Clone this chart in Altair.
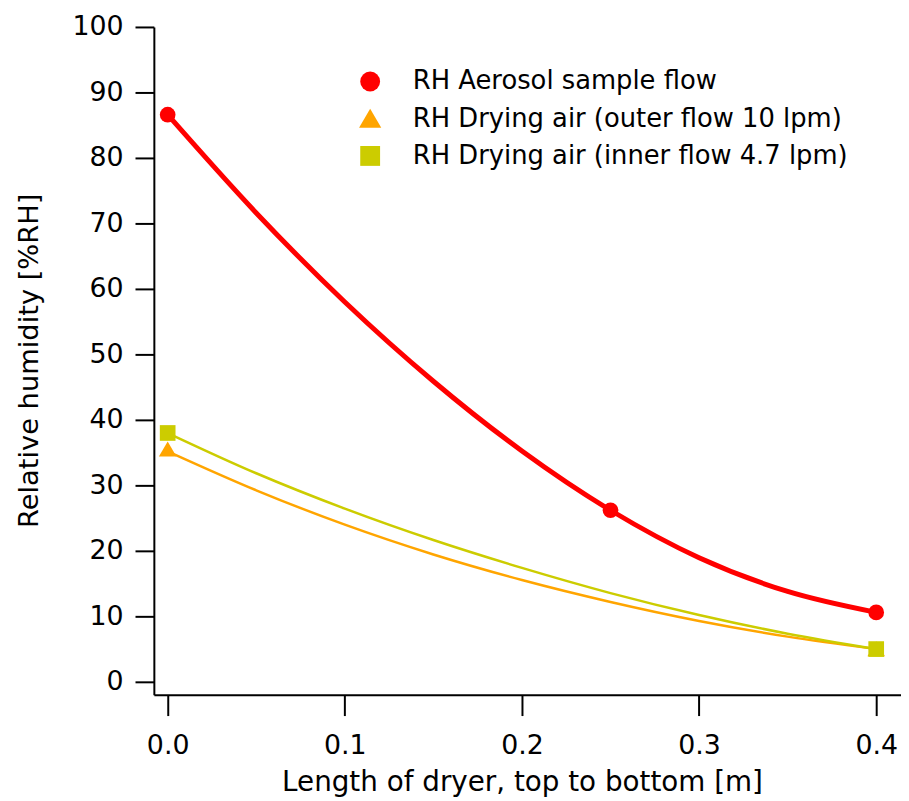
import altair as alt
import pandas as pd

series = [
    "RH Aerosol sample flow",
    "RH Drying air (outer flow 10 lpm)",
    "RH Drying air (inner flow 4.7 lpm)",
]
colors = ["#FF0000", "#FFA500", "#CCCC00"]
shapes = ["circle", "M0,-1L1.12,0.92L-1.12,0.92Z", "square"]

# measured points
pt_x = [[0.0, 0.25, 0.4], [0.0, 0.4], [0.0, 0.4]]
pt_y = [[86.6, 26.2, 10.6], [35.5, 5.0], [38.0, 5.0]]

# fitted curves, values
curve_x = [0.0, 0.05, 0.1, 0.15, 0.2, 0.25, 0.3, 0.35, 0.4]
red_y = [86.6, 71.6, 58.0, 45.9, 35.25, 26.2, 18.95, 13.8, 10.6]
outer_y = [35.2, 29.25, 24.0, 19.45, 15.55, 12.2, 9.3, 6.9, 5.0]
inner_y = [38.0, 31.85, 26.45, 21.65, 17.4, 13.55, 10.2, 7.35, 5.0]

x_ticks = [0.0, 0.1, 0.2, 0.3, 0.4]
y_ticks = [0, 10, 20, 30, 40, 50, 60, 70, 80, 90, 100]

curves = []
for s, ys in zip(series, [red_y, outer_y, inner_y]):
    for i, (a, b) in enumerate(zip(curve_x, ys)):
        curves.append({"series": s, "x": a, "y": b, "i": i})
curve_df = pd.DataFrame(curves)

pts = []
for s, xs, ys in zip(series, pt_x, pt_y):
    for a, b in zip(xs, ys):
        pts.append({"series": s, "x": a, "y": b})
pt_df = pd.DataFrame(pts)

FONT = "DejaVu Sans"

xscale = alt.Scale(domain=[-0.0078, 0.414], nice=False, zero=False)
yscale = alt.Scale(domain=[-1.97, 100], nice=False, zero=False)

xaxis = alt.Axis(
    values=x_ticks, format=".1f", title="Length of dryer, top to bottom [m]",
    grid=False, tickSize=21, tickWidth=2, domainWidth=2, domainColor="black",
    tickColor="black", labelFontSize=27, labelFont=FONT, labelColor="black",
    labelPadding=17, titleFont=FONT, titleFontSize=28, titleFontWeight="normal",
    titleColor="black", titleY=97, titleX=371, titleBaseline="alphabetic",
    labelFlush=False,
)
yaxis = alt.Axis(
    values=y_ticks, title="Relative humidity [%RH]", grid=False, tickSize=19,
    tickWidth=2, domainWidth=2, domainColor="black", tickColor="black",
    labelFontSize=27, labelFont=FONT, labelColor="black", labelPadding=12,
    titleFont=FONT, titleFontSize=27.5, titleFontWeight="normal", titleColor="black",
    titleX=-117, titleY=336, titleAngle=-90, titleBaseline="alphabetic",
    titleAlign="center", labelFlush=False,
)

base_line = alt.Chart(curve_df)
line_layers = []
for s, c, w in [(series[1], colors[1], 2.5), (series[2], colors[2], 2.5), (series[0], colors[0], 5)]:
    line_layers.append(
        base_line.transform_filter(alt.datum.series == s)
        .mark_line(color=c, strokeWidth=w, interpolate="monotone")
        .encode(
            x=alt.X("x:Q", scale=xscale, axis=xaxis),
            y=alt.Y("y:Q", scale=yscale, axis=yaxis),
            order="i:Q",
        )
    )

legend = alt.Legend(
    title=None, orient="none", legendX=205, legendY=42,
    labelFontSize=26, labelFont=FONT, labelColor="black",
    symbolSize=400, rowPadding=11.5, labelOffset=30, padding=0,
    labelLimit=600, symbolStrokeWidth=0,
)

points = (
    alt.Chart(pt_df)
    .mark_point(filled=True, opacity=1, size=250, strokeWidth=0)
    .encode(
        x=alt.X("x:Q", scale=xscale, axis=xaxis),
        y=alt.Y("y:Q", scale=yscale, axis=yaxis),
        color=alt.Color("series:N", scale=alt.Scale(domain=series, range=colors), legend=legend),
        shape=alt.Shape("series:N", scale=alt.Scale(domain=series, range=shapes), legend=legend),
    )
)

chart = (
    alt.layer(*line_layers, points)
    .properties(
        width=753, height=673,
        autosize=alt.AutoSizeParams(type="none"),
        padding={"left": 147, "top": 16, "right": 0, "bottom": 104},
        background="white",
    )
    .configure_view(stroke=None)
)

chart.save("out.html", embed_options={"renderer": "svg", "actions": False})
